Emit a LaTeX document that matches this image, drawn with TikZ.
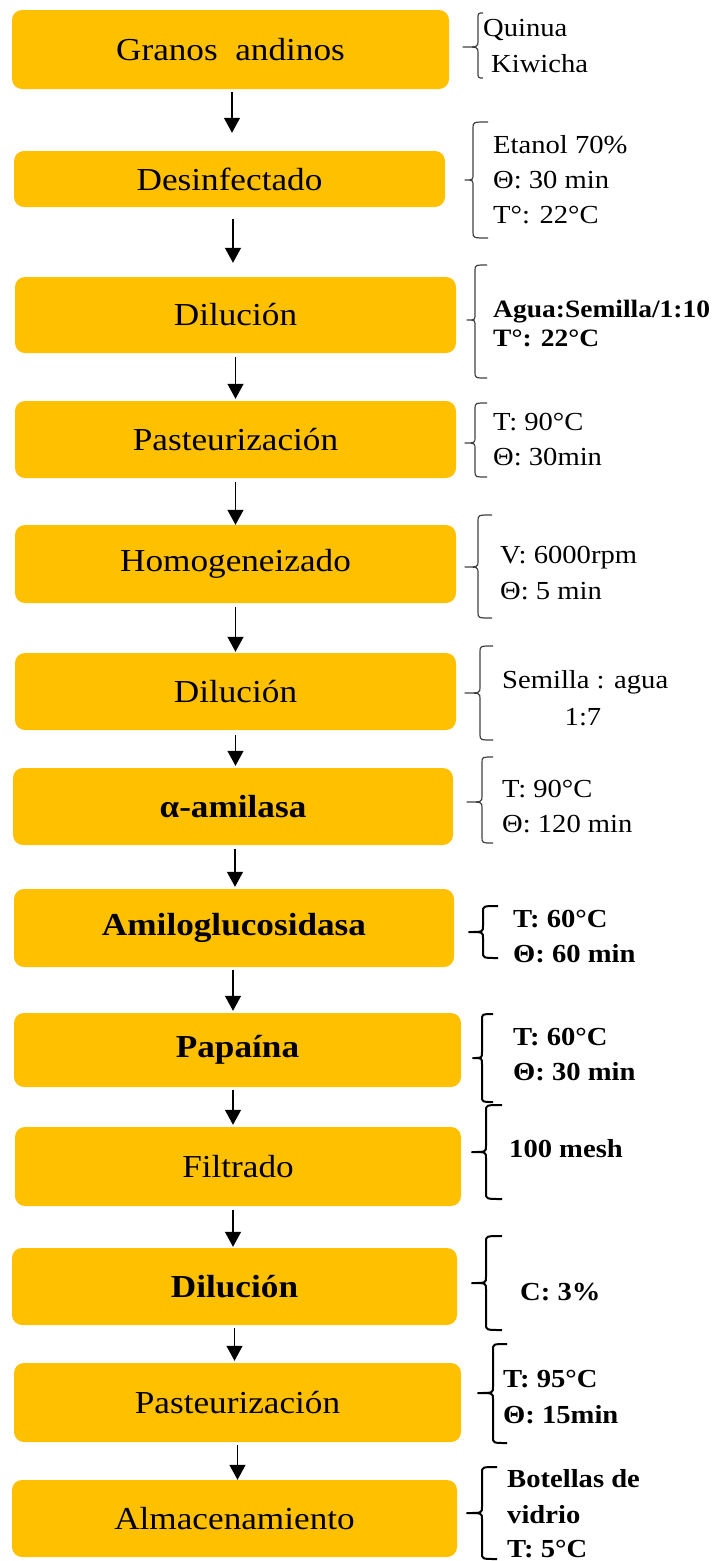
\documentclass[tikz,border=0pt]{standalone}
\usepackage{fontspec}
\setmainfont[FakeStretch=1.1]{Liberation Serif}
\usetikzlibrary{arrows.meta}
\definecolor{gold}{RGB}{255,192,0}
% #1 style, #2 x of vertical line, #3 top, #4 bottom, #5 hook end x, #6 tip x, #7 tip y
\newcommand{\sidebrace}[7]{%
  \draw[#1] (#5,#3) .. controls (#2,#3) .. (#2,#3+6) -- (#2,#7-6)
    .. controls (#2,#7) .. (#6,#7) .. controls (#2,#7) .. (#2,#7+6)
    -- (#2,#4-6) .. controls (#2,#4) .. (#5,#4);}
\begin{document}
\begin{tikzpicture}[x=1pt,y=-1pt,
  box/.style={fill=gold, draw=none, rounded corners=10pt, inner sep=0pt,
    font=\fontsize{32}{38}\selectfont},
  arr/.style={line width=1.3pt, -{Triangle[width=16pt,length=15pt]}},
  side/.style={anchor=base west, inner sep=0pt, font=\fontsize{26}{30}\selectfont},
  sideb/.style={side, font=\fontsize{26}{30}\selectfont\bfseries},
  thinbrace/.style={line width=1.2pt, black!75, line join=round},
  thickbrace/.style={line width=2pt, black, line join=round}]
\useasboundingbox (0,0) rectangle (712,1561);

% boxes
\node[box, minimum width=437pt, minimum height=79pt] (b1) at (230.5,49.5) {Granos\ \ andinos};
\node[box, minimum width=431pt, minimum height=56pt] (b2) at (229.5,179) {Desinfectado};
\node[box, minimum width=441pt, minimum height=76pt] (b3) at (235.5,315) {Dilución};
\node[box, minimum width=441pt, minimum height=77pt] (b4) at (235.5,439.5) {Pasteurización};
\node[box, minimum width=441pt, minimum height=78pt] (b5) at (235.5,564) {Homogeneizado};
\node[box, minimum width=441pt, minimum height=77pt] (b6) at (235.5,691.5) {Dilución};
\node[box, minimum width=440pt, minimum height=77pt] (b7) at (233,806.5) {\bfseries α-amilasa};
\node[box, minimum width=440pt, minimum height=78pt] (b8) at (234,928) {\bfseries Amiloglucosidasa};
\node[box, minimum width=447pt, minimum height=74pt] (b9) at (237.5,1050) {\bfseries Papaína};
\node[box, minimum width=446pt, minimum height=79pt] (b10) at (238,1166.5) {Filtrado};
\node[box, minimum width=445pt, minimum height=77pt] (b11) at (234.5,1286.5) {\bfseries Dilución};
\node[box, minimum width=447pt, minimum height=79pt] (b12) at (237.5,1402.5) {Pasteurización};
\node[box, minimum width=445pt, minimum height=77pt] (b13) at (234.5,1518.5) {Almacenamiento};

% arrows
\draw[arr, shorten <=3pt, shorten >=18pt] ([xshift=1.5pt]b1.south) -- ([xshift=1.5pt]b1.south |- b2.north);
\draw[arr, shorten <=12pt, shorten >=14pt] ([xshift=3.5pt]b2.south) -- ([xshift=3.5pt]b2.south |- b3.north);
\draw[arr, shorten <=4pt, shorten >=2pt] (b3.south) -- (b3.south |- b4.north);
\draw[arr, shorten <=4pt, shorten >=0pt] (b4.south) -- (b4.south |- b5.north);
\draw[arr, shorten <=4pt, shorten >=1pt] (b5.south) -- (b5.south |- b6.north);
\draw[arr, shorten <=5pt, shorten >=2pt] (b6.south) -- (b6.south |- b7.north);
\draw[arr, shorten <=4pt, shorten >=2pt] ([xshift=2pt]b7.south) -- ([xshift=2pt]b7.south |- b8.north);
\draw[arr, shorten <=3pt, shorten >=2pt] ([xshift=-1pt]b8.south) -- ([xshift=-1pt]b8.south |- b9.north);
\draw[arr, shorten <=3pt, shorten >=2pt] ([xshift=-4.5pt]b9.south) -- ([xshift=-4.5pt]b9.south |- b10.north);
\draw[arr, shorten <=4pt, shorten >=1pt] ([xshift=-5pt]b10.south) -- ([xshift=-5pt]b10.south |- b11.north);
\draw[arr, shorten <=3pt, shorten >=2pt] (b11.south) -- (b11.south |- b12.north);
\draw[arr, shorten <=3pt, shorten >=0pt] (b12.south) -- (b12.south |- b13.north);

% braces
\sidebrace{thinbrace}{478}{13}{78}{483}{463}{47}
\sidebrace{thinbrace}{473}{122}{238}{488}{465}{180}
\sidebrace{thinbrace}{475}{265}{378}{487}{467}{320}
\sidebrace{thinbrace}{475}{403}{477}{487}{465}{443}
\sidebrace{thinbrace}{478}{515}{618}{492}{465}{567}
\sidebrace{thinbrace}{480}{646}{740}{493}{465}{693}
\sidebrace{thinbrace}{482}{757}{843}{493}{467}{802}
\sidebrace{thickbrace}{483}{906}{958}{498}{469}{932}
\sidebrace{thickbrace}{482}{1014}{1102}{493}{473}{1058}
\sidebrace{thickbrace}{486}{1105}{1199}{502}{472}{1152}
\sidebrace{thickbrace}{486}{1236}{1330}{502}{472}{1283}
\sidebrace{thickbrace}{493}{1344}{1443}{507}{478}{1393}
\sidebrace{thickbrace}{482}{1467}{1559}{497}{467}{1513}

% side texts
\node[side] (t1a) at (483,36) {Quinua};
\node[side] (t1b) at (491,72) {Kiwicha};
\node[side] (t2a) at (493,153) {Etanol 70\%};
\node[side] (t2b) at (493,188) {Θ: 30 min};
\node[side] (t2c) at (493,223) {T°: 22°C};
\node[sideb, font=\fontsize{25}{30}\selectfont\bfseries] (t3a) at (493,317) {Agua:Semilla/1:10};
\node[sideb, font=\fontsize{25}{30}\selectfont\bfseries] (t3b) at (493,346) {T°: 22°C};
\node[side] (t4a) at (493,430) {T: 90°C};
\node[side] (t4b) at (493,465) {Θ: 30min};
\node[side] (t5a) at (500,563) {V: 6000rpm};
\node[side] (t5b) at (500,599) {Θ: 5 min};
\node[side] (t6a) at (502,688) {Semilla : agua};
\node[side, anchor=base] (t6b) at (583,725) {1:7};
\node[side] (t7a) at (502,797) {T: 90°C};
\node[side] (t7b) at (502,832) {Θ: 120 min};
\node[sideb] (t8a) at (513,927) {T: 60°C};
\node[sideb] (t8b) at (513,962) {Θ: 60 min};
\node[sideb] (t9a) at (513,1045) {T: 60°C};
\node[sideb] (t9b) at (513,1080) {Θ: 30 min};
\node[sideb] (t10) at (509,1157) {100 mesh};
\node[sideb] (t11) at (520,1300) {C: 3\%};
\node[sideb] (t12a) at (503,1387) {T: 95°C};
\node[sideb] (t12b) at (503,1423) {Θ: 15min};
\node[sideb] (t13a) at (507,1487) {Botellas de};
\node[sideb] (t13b) at (507,1523) {vidrio};
\node[sideb] (t13c) at (507,1557) {T: 5°C};
\end{tikzpicture}
\end{document}
